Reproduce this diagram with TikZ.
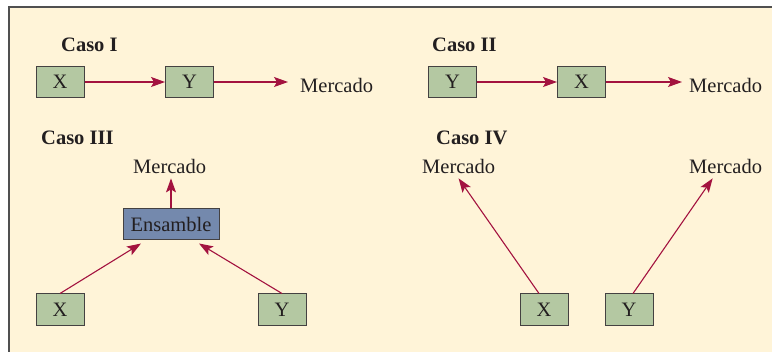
\documentclass[tikz,border=0pt]{standalone}
\usepackage{fontspec}
\setmainfont{Liberation Serif}
\usetikzlibrary{arrows.meta}
\definecolor{bgcream}{HTML}{FFF4D8}
\definecolor{framegray}{HTML}{505050}
\definecolor{boxgreen}{HTML}{B4C8A2}
\definecolor{boxblue}{HTML}{7489AD}
\definecolor{arrowred}{HTML}{A3123F}
\definecolor{txt}{HTML}{231F20}
\tikzset{
  lbl/.style={font=\fontsize{20.5}{22}\selectfont, text=txt, inner xsep=0pt, inner ysep=4pt},
  caso/.style={font=\fontsize{20.5}{22}\selectfont\bfseries, text=txt, inner sep=0pt, anchor=base west},
  gbox/.style={draw=txt!85, line width=1pt, fill=boxgreen, minimum width=48pt, minimum height=31pt,
    inner sep=0pt, font=\fontsize{20.5}{22}\selectfont, text=txt},
  bbox/.style={gbox, fill=boxblue, minimum width=96pt},
  arr/.style={draw=arrowred, line width=1.1pt, -{Stealth[length=14pt,width=10pt,inset=3pt]}}
}
\begin{document}
\begin{tikzpicture}[x=1pt,y=-1pt]
\useasboundingbox (0,0) rectangle (772,352);
\fill[bgcream] (8,6) rectangle (772,352);
\draw[framegray, line width=2pt] (9,352) -- (9,7) -- (772,7);

% Caso I
\node[caso] (c1) at (61,52) {Caso I};
\node[gbox] (x1) at (60,82) {X};
\node[gbox] (y1) at (189.5,82) {Y};
\node[lbl, anchor=base west, inner xsep=12pt] (m1) at (288,93) {Mercado};
\draw[arr] (x1.east) -- (y1.west);
\draw[arr] (y1.east) -- (y1.east -| m1.west);

% Caso II
\node[caso] (c2) at (432,52) {Caso II};
\node[gbox] (y2) at (452.5,82) {Y};
\node[gbox] (x2) at (581.5,82) {X};
\node[lbl, anchor=base west, inner xsep=7pt] (m2) at (682,93) {Mercado};
\draw[arr] (y2.east) -- (x2.west);
\draw[arr] (x2.east) -- (x2.east -| m2.west);

% Caso III
\node[caso] (c3) at (41,145) {Caso III};
\node[lbl, anchor=base west] (m3) at (133,174) {Mercado};
\node[bbox] (ens) at (171,224.5) {Ensamble};
\node[gbox, minimum height=32pt] (x3) at (60,310) {X};
\node[gbox, minimum height=32pt] (y3) at (282,310) {Y};
\draw[arr] (ens.north) -- (ens.north |- m3.south);
\draw[arr] (x3.north) -- ([xshift=-30pt,yshift=-3pt]ens.south);
\draw[arr] (y3.north) -- ([xshift=28pt,yshift=-3pt]ens.south);

% Caso IV
\node[caso] (c4) at (436,145) {Caso IV};
\node[lbl, anchor=base west] (m4a) at (422,174) {Mercado};
\node[lbl, anchor=base west] (m4b) at (689,174) {Mercado};
\node[gbox, minimum height=32pt] (x4) at (544,310) {X};
\node[gbox, minimum height=32pt] (y4) at (629,310) {Y};
\draw[arr] ([xshift=-5pt]x4.north) -- (m4a.south);
\draw[arr] ([xshift=4pt]y4.north) -- ([xshift=-13pt]m4b.south);
\end{tikzpicture}
\end{document}
